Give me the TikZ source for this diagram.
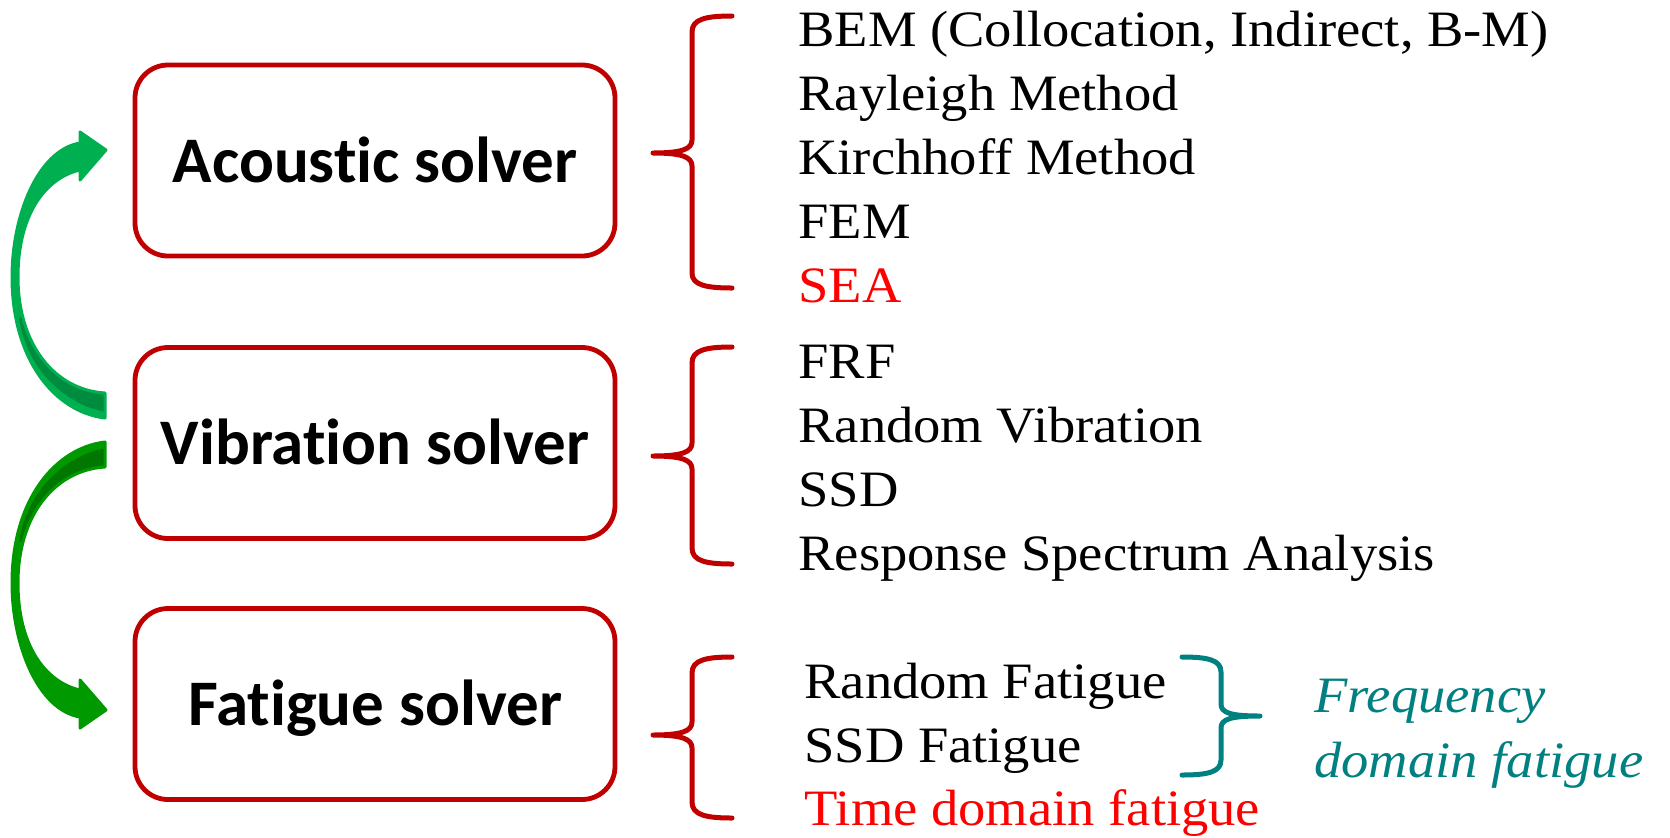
\documentclass[tikz,border=0pt]{standalone}
\usepackage{fontspec}
\newfontfamily\listfont{Liberation Serif}[FakeStretch=1.07]
\newfontfamily\labelfont{Carlito}[Ligatures=NoCommon]
\definecolor{boxred}{HTML}{C00000}
\definecolor{textred}{HTML}{FF0000}
\definecolor{tealc}{HTML}{008080}
\definecolor{upgreen}{HTML}{00B050}
\definecolor{upgreendark}{HTML}{008C3E}
\definecolor{downgreen}{HTML}{009A00}
\definecolor{downgreendark}{HTML}{007800}

% outline of the curved ribbon arrow (tail at lower right, head at upper right)
\newcommand\bentarrowpath{(106,150) -- (80,132) -- (80,143)
  .. controls (38,150) and (12,215) .. (12,277)
  .. controls (12,360) and (55,412) .. (105,418) -- (105,393)
  .. controls (55,390) and (18,345) .. (18,277)
  .. controls (18,215) and (45,178) .. (80,170) -- (80,180) -- cycle}
% shaded back face of the ribbon near the tail
\newcommand\bentarrowshade{(19,318) .. controls (26,366) and (62,404) .. (106,412)
  -- (125,412) -- (125,300) -- cycle}

\begin{document}
\begin{tikzpicture}[x=0.5pt,y=-0.5pt,
  solverbox/.style={draw=boxred, line width=2.4pt, rounded corners=16.5pt,
    minimum width=240pt, minimum height=95.5pt, inner sep=0pt},
  solverlabel/.style={font=\labelfont\bfseries\fontsize{32.5pt}{39pt}\selectfont,
    anchor=base, inner sep=0pt},
  listitem/.style={font=\listfont\fontsize{25.5pt}{30pt}\selectfont,
    anchor=base west, inner sep=0pt},
  bracered/.style={draw=boxred, line width=2.5pt, line cap=round, line join=round},
  braceteal/.style={draw=tealc, line width=2.5pt, line cap=round, line join=round}
]
\useasboundingbox (0,0) rectangle (1670,837);

% solver boxes
\node[solverbox] (acoustic) at (375,160.5) {};
\node[solverbox] (vibration) at (375,443) {};
\node[solverbox] (fatigue) at (375,704) {};
\node[solverlabel] (acousticlabel) at (375,182) {Acoustic solver};
\node[solverlabel] (vibrationlabel) at (375,464) {Vibration solver};
\node[solverlabel] (fatiguelabel) at (375,725) {Fatigue solver};

% curved arrows between the solvers
\begin{scope}
  \fill[upgreen] \bentarrowpath;
  \begin{scope}
    \clip \bentarrowpath;
    \fill[upgreendark] \bentarrowshade;
  \end{scope}
  \draw[upgreen, line width=1.5pt, line join=round] \bentarrowpath;
\end{scope}
\begin{scope}[shift={(0,860)}, yscale=-1]
  \fill[downgreen] \bentarrowpath;
  \begin{scope}
    \clip \bentarrowpath;
    \fill[downgreendark] \bentarrowshade;
  \end{scope}
  \draw[downgreen, line width=1.5pt, line join=round] \bentarrowpath;
\end{scope}

% braces
\draw[bracered] (732,16) .. controls (706,16) and (692,19) .. (692,32) -- (692,140)
  .. controls (692,149) and (682,153) .. (653,153)
  .. controls (682,153) and (692,157) .. (692,166) -- (692,273)
  .. controls (692,285) and (706,288) .. (732,288);
\draw[bracered] (732,347) .. controls (706,347) and (692,350) .. (692,363) -- (692,443)
  .. controls (692,452) and (682,456) .. (653,456)
  .. controls (682,456) and (692,460) .. (692,469) -- (692,548)
  .. controls (692,561) and (706,564) .. (732,564);
\draw[bracered] (732,657) .. controls (706,657) and (692,660) .. (692,673) -- (692,722)
  .. controls (692,731) and (682,735) .. (653,735)
  .. controls (682,735) and (692,739) .. (692,748) -- (692,802)
  .. controls (692,815) and (706,818) .. (732,818);
\draw[braceteal] (1182,657) .. controls (1208,657) and (1221,660) .. (1221,672) -- (1221,704)
  .. controls (1221,713) and (1231,716) .. (1260,716)
  .. controls (1231,716) and (1221,719) .. (1221,728) -- (1221,760)
  .. controls (1221,772) and (1208,775) .. (1182,775);

% acoustic methods
\node[listitem] (bem) at (798,46) {BEM (Collocation, Indirect, B-M)};
\node[listitem] (rayleigh) at (798,110) {Rayleigh Method};
\node[listitem] (kirchhoff) at (798,174) {Kirchhoff Method};
\node[listitem] (fem) at (798,238) {FEM};
\node[listitem, text=textred] (sea) at (798,302) {SEA};

% vibration methods
\node[listitem] (frf) at (798,378) {FRF};
\node[listitem] (randvib) at (798,442) {Random Vibration};
\node[listitem] (ssd) at (798,506) {SSD};
\node[listitem] (rsa) at (798,570) {Response Spectrum Analysis};

% fatigue methods
\node[listitem] (randfat) at (804,698) {Random Fatigue};
\node[listitem] (ssdfat) at (804,762) {SSD Fatigue};
\node[listitem, text=textred] (timefat) at (804,825) {Time domain fatigue};
\node[listitem, text=tealc, font=\listfont\itshape\fontsize{25.5pt}{30pt}\selectfont]
  (freq1) at (1314,712) {Frequency};
\node[listitem, text=tealc, font=\listfont\itshape\fontsize{25.5pt}{30pt}\selectfont]
  (freq2) at (1314,777) {domain fatigue};
\end{tikzpicture}
\end{document}
